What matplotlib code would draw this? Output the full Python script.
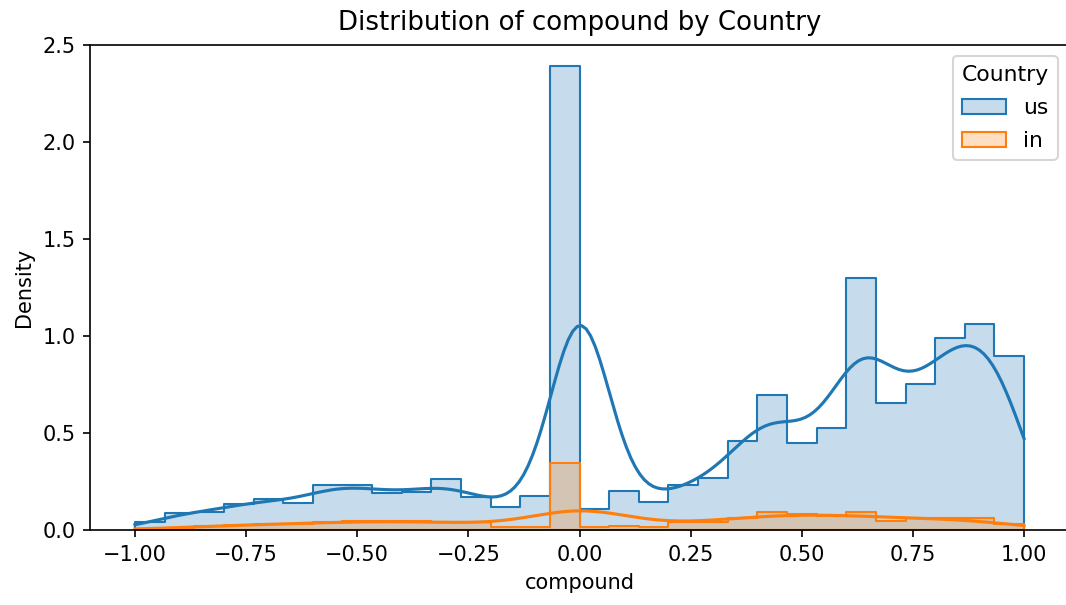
import numpy as np
import matplotlib.pyplot as plt
from matplotlib.colors import to_rgb

# histogram of the compound score, 30 bins from -1 to 1, density (common norm)
bin_edges = np.linspace(-1, 1, 31)
us_density = [0.040, 0.089, 0.095, 0.132, 0.158, 0.141, 0.232, 0.232, 0.192, 0.195,
              0.263, 0.168, 0.117, 0.175, 2.390, 0.107, 0.201, 0.143, 0.232, 0.266,
              0.459, 0.696, 0.450, 0.527, 1.297, 0.656, 0.753, 0.988, 1.062, 0.898]
in_density = [0.005, 0.012, 0.020, 0.025, 0.030, 0.032, 0.040, 0.045, 0.045, 0.045,
              0.040, 0.040, 0.018, 0.018, 0.347, 0.015, 0.020, 0.015, 0.043, 0.043,
              0.060, 0.091, 0.082, 0.072, 0.091, 0.046, 0.064, 0.060, 0.060, 0.030]
countries = ["us", "in"]
colors = ["#1f77b4", "#ff7f0e"]
# kde smoothing width per country (fewer "in" samples -> wider)
bandwidths = [0.066, 0.11]


def kde_from_bins(heights, bw, grid):
    width = np.diff(bin_edges)
    points = (bin_edges[:-1] + bin_edges[1:]) / 2
    points[14] = 0.0  # the spike bin is the neutral scores, exactly 0
    mass = np.array(heights) * width
    z = (grid[:, None] - points[None, :]) / bw
    return (mass[None, :] * np.exp(-0.5 * z ** 2)).sum(axis=1) / (bw * np.sqrt(2 * np.pi))


W, H, DPI = 1066, 605, 150
fig = plt.figure(figsize=(W / DPI, H / DPI), dpi=DPI)
ax = fig.add_axes([90.5 / W, 75 / H, 978 / W, 485 / H])

series = [us_density, in_density]
for heights, color in zip(series, colors):
    y = list(heights) + [heights[-1]]
    ax.fill_between(bin_edges, y, step="post", facecolor=(*to_rgb(color), 0.25),
                    edgecolor=color, linewidth=1.0)

grid = np.linspace(-1, 1, 200)
for heights, color, bw in zip(series, colors, bandwidths):
    ax.plot(grid, kde_from_bins(heights, bw, grid), color=color, linewidth=1.5)

ax.set_xlim(-1.1, 1.1)
ax.set_ylim(0, 2.5)
ax.set_xticks(np.arange(-1, 1.01, 0.25))
ax.set_title("Distribution of compound by Country", fontsize=12.5, pad=7)
ax.set_xlabel("compound")
ax.set_ylabel("Density")

handles = [plt.Rectangle((0, 0), 1, 1, facecolor=(*to_rgb(c), 0.25),
                         edgecolor=c, linewidth=1.0) for c in colors]
ax.legend(handles, countries, title="Country", loc="upper right",
          fontsize=10.5, title_fontsize=10.5, labelspacing=0.6)

fig.savefig("out.png", dpi=DPI)
